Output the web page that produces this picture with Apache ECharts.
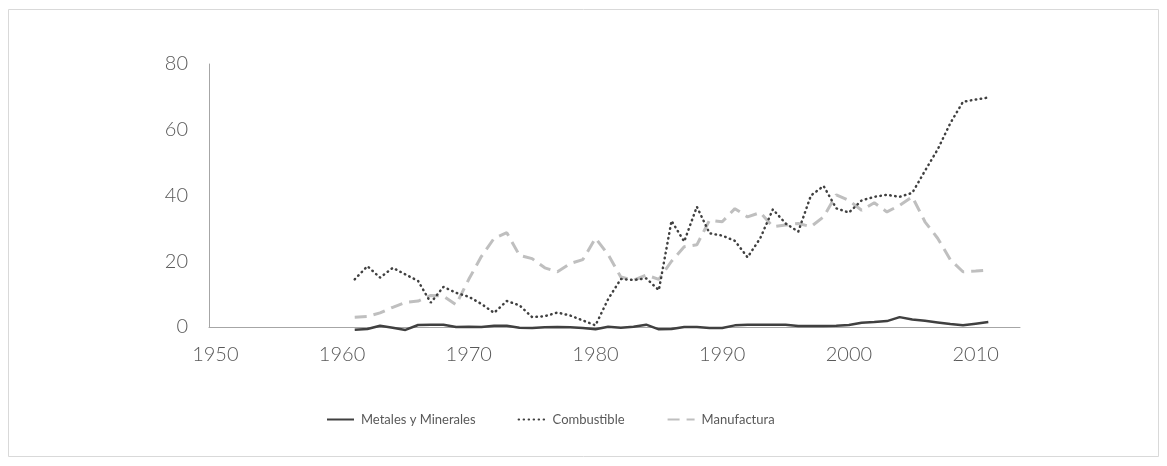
<!DOCTYPE html>
<html>
<head>
<meta charset="utf-8">
<script src="https://cdn.jsdelivr.net/npm/echarts@6/dist/echarts.min.js"></script>
<style>
html,body{margin:0;padding:0;background:#fff;}
#chart{width:1167px;height:466px;}
</style>
</head>
<body>
<div id="chart"></div>
<script>
// Categories: years 1950..2013 (axis), data 1961..2011
var years = [];
for (var y = 1950; y <= 2013; y++) years.push(String(y));
var dataStartYear = 1961;

var metales = [-0.8,-0.6,0.4,-0.2,-0.9,0.6,0.7,0.7,0,0.1,
  0,0.4,0.4,-0.2,-0.3,-0.1,0,-0.1,-0.3,-0.7,
  0.1,-0.2,0.1,0.7,-0.7,-0.6,0,0,-0.3,-0.3,
  0.5,0.7,0.7,0.7,0.7,0.3,0.3,0.3,0.4,0.6,
  1.3,1.5,1.8,3,2.3,1.9,1.4,0.9,0.5,1,1.5];

var combustible = [14.5,18.5,15,18,16,14,7.4,12.2,10.4,9.2,
  7,4.3,7.9,6.6,3,3.3,4.4,3.5,2,0.5,
  8.5,14.6,14.3,14.8,11.2,32.3,26,36.6,28.5,27.8,
  26.2,21.2,27,35.8,31.5,29,40,42.9,36.1,34.8,
  38.5,39.6,40.2,39.6,40.8,47.5,54,62,68.5,69.2,69.8];

var manufactura = [3,3.2,4.3,6,7.5,7.9,9.6,9.4,6.8,14.5,
  21.5,27,28.7,21.8,20.8,18,16.8,19.3,20.5,27,
  22,15.2,14.2,15.8,14.5,20,24.4,25,32.5,32,
  36,33.5,34.8,30.5,31,31.5,30.5,33.5,40.2,38.5,
  35.5,37.8,35,37,39.6,32,27,20.5,16.8,17,17.3];

var seriesNames = ['Metales y Minerales','Combustible','Manufactura'];

function pad(arr) {
  var out = [];
  for (var i = 0; i < years.length; i++) {
    var idx = Number(years[i]) - dataStartYear;
    out.push(idx >= 0 && idx < arr.length ? arr[idx] : null);
  }
  return out;
}

var FONT = 'Lato, "Open Sans", sans-serif';
var chart = echarts.init(document.getElementById('chart'), null, {renderer:'canvas'});
chart.setOption({
  backgroundColor: '#ffffff',
  animation: false,
  graphic: [{
    type: 'rect',
    shape: {x: 8.5, y: 9.5, width: 1150, height: 447},
    style: {fill: 'none', stroke: '#d9d9d9', lineWidth: 1},
    silent: true
  }],
  grid: {left: 209, right: 147, top: 64, bottom: 139, containLabel: false},
  legend: {
    left: 326,
    top: 413,
    padding: 0,
    itemWidth: 27,
    itemHeight: 14,
    itemGap: 42,
    itemStyle: {opacity: 0},
    textStyle: {fontFamily: FONT, fontSize: 13, color: '#595959', padding: [0, 0, 0, 2]},
    data: seriesNames
  },
  xAxis: {
    type: 'category',
    data: years,
    boundaryGap: true,
    axisLine: {show: true, lineStyle: {color: '#a6a6a6', width: 1}},
    axisTick: {show: false},
    axisLabel: {
      interval: function (index) { return index % 10 === 0; },
      margin: 18,
      fontFamily: FONT,
      fontSize: 20,
      fontWeight: 300,
      color: '#595959'
    },
    splitLine: {show: false}
  },
  yAxis: {
    type: 'value',
    min: 0,
    max: 80,
    interval: 20,
    axisLine: {show: true, lineStyle: {color: '#a6a6a6', width: 1}},
    axisTick: {show: false},
    axisLabel: {
      margin: 21,
      fontFamily: FONT,
      fontSize: 20,
      fontWeight: 300,
      color: '#595959'
    },
    splitLine: {show: false}
  },
  series: [
    {
      name: seriesNames[0], type: 'line', data: pad(metales),
      showSymbol: false, symbol: 'none', clip: false, z: 3,
      lineStyle: {color: '#404040', width: 2.5},
      itemStyle: {color: '#404040'}
    },
    {
      name: seriesNames[1], type: 'line', data: pad(combustible),
      showSymbol: false, symbol: 'none', clip: false, z: 2,
      lineStyle: {color: '#404040', width: 2.5, type: [0.5, 4.5], cap: 'round'},
      itemStyle: {color: '#404040'}
    },
    {
      name: seriesNames[2], type: 'line', data: pad(manufactura),
      showSymbol: false, symbol: 'none', clip: false, z: 1,
      lineStyle: {color: '#bfbfbf', width: 3, type: [12, 7]},
      itemStyle: {color: '#bfbfbf'}
    }
  ]
});
</script>
</body>
</html>
